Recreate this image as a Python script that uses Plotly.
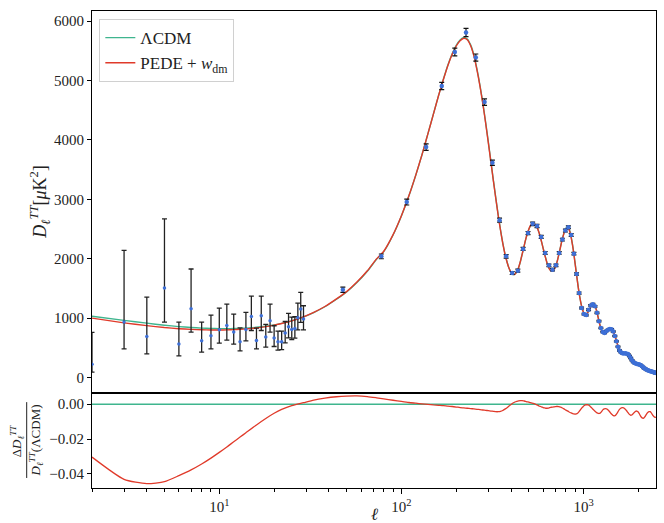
import plotly.graph_objects as go
import math

# ---------------- data ----------------
# low-ell unbinned TT data
ell_low = [2, 3, 4, 5, 6, 7, 8, 9, 10, 11, 12, 13, 14, 15, 16, 17, 18, 19, 20,
           21, 22, 23, 24, 25, 26, 27, 28, 29]
D_low = [226, 934, 691, 1507, 563, 1158, 619, 703, 804, 877, 765, 602, 809, 1029,
         624, 1040, 681, 956, 664, 602, 602, 749, 855, 809, 826, 1006, 1153, 985]
err_low_up = [534, 1207, 664, 1163, 371, 669, 315, 349, 366, 360, 304, 236, 287, 343,
              208, 332, 213, 281, 208, 180, 180, 195, 224, 209, 198, 248, 280, 224]
err_low_dn = [133, 450, 291, 573, 197, 393, 191, 219, 224, 247, 202, 152, 190, 237,
              140, 248, 169, 191, 141, 140, 130, 164, 186, 168, 162, 202, 225, 181]

# high-ell binned TT data
ell_high = [47.7, 77.6, 107.0, 136.7, 166.5, 196.4, 226.3, 256.2, 286.1, 316.0,
            345.9, 375.9, 405.8, 435.8, 465.7, 495.7, 525.6, 555.6, 585.6, 615.6,
            645.6, 675.5, 705.5, 735.5, 765.5, 795.5, 825.5, 855.5, 885.5, 915.5,
            945.5, 975.5, 1005.5, 1035.5, 1065.5, 1095.5, 1125.5, 1155.5, 1185.5, 1215.5,
            1245.5, 1275.5, 1305.5, 1335.5, 1365.5, 1395.5, 1425.5, 1455.5, 1485.5, 1515.5,
            1545.5, 1575.5, 1605.5, 1635.5, 1665.5, 1695.5, 1725.5, 1755.5, 1785.5, 1815.5,
            1845.5, 1875.5, 1905.5, 1935.5, 1965.5, 1995.5, 2025.5, 2055.5, 2085.5, 2115.5,
            2145.5, 2175.5, 2205.5, 2235.5, 2265.5, 2295.5, 2325.5, 2355.5, 2385.5, 2415.5,
            2445.5, 2475.5, 2499.0]
D_high = [1479, 2040, 2955, 3879, 4907, 5481, 5808, 5386, 4637, 3615,
          2650, 2040, 1760, 1800, 2165, 2432, 2587, 2553, 2368, 2098,
          1889, 1816, 1889, 2098, 2322, 2474, 2530, 2401, 2086, 1744,
          1423, 1170, 1069, 1052, 1142, 1215, 1235, 1200, 1090, 950,
          835, 765, 752, 782, 805, 818, 812, 775, 700, 610,
          520, 455, 425, 410, 405, 408, 402, 395, 362, 330,
          292, 262, 245, 238, 230, 226, 222, 212, 196, 180,
          162, 148, 138, 128, 120, 115, 108, 104, 100, 94,
          86, 80, 76]
err_high = [45, 40, 50, 55, 60, 65, 70, 60, 55, 45,
            35, 30, 25, 24, 25, 27, 28, 28, 26, 24,
            22, 21, 21, 22, 23, 24, 24, 23, 21, 19,
            17, 15, 14, 14, 14, 14, 14, 13, 13, 12,
            12, 11, 11, 11, 11, 11, 11, 11, 10, 10,
            10, 10, 10, 10, 10, 10, 10, 10, 10, 10,
            10, 10, 10, 10, 10, 10, 10, 10, 10, 10,
            10, 11, 11, 11, 11, 12, 12, 12, 13, 13,
            14, 15, 16]

# model curves
ell_model = [2, 3, 4, 5, 6, 7, 8, 9, 10, 11, 12, 13, 14, 16, 18, 20, 22, 25, 29, 33,
             38, 44, 50, 57, 65, 73, 80, 90, 100, 110, 120, 130, 140, 150, 160, 170,
             180, 190, 200, 210, 220, 230, 240, 250, 260, 270, 280, 290, 300, 310,
             320, 330, 340, 350, 360, 370, 380, 390, 400, 410, 420, 430, 440, 450,
             460, 470, 480, 490, 500, 510, 520, 530, 540, 550, 560, 570, 580, 590,
             600, 610, 620, 630, 640, 650, 660, 670, 680, 690, 700, 710, 720, 730,
             740, 750, 760, 770, 780, 790, 800, 810, 820, 830, 840, 850, 860, 870,
             880, 890, 900, 910, 920, 930, 940, 950, 960, 970, 980, 990, 1000, 1010,
             1020, 1030, 1040, 1050, 1060, 1070, 1080, 1090, 1100, 1110, 1120, 1130,
             1140, 1150, 1160, 1170, 1180, 1190, 1200, 1210, 1220, 1230, 1240, 1250,
             1260, 1270, 1280, 1290, 1300, 1320, 1340, 1360, 1380, 1400, 1420, 1440,
             1460, 1480, 1500, 1520, 1540, 1560, 1580, 1600, 1630, 1660, 1690, 1720,
             1750, 1780, 1810, 1840, 1870, 1900, 1930, 1960, 1990, 2020, 2050, 2080,
             2110, 2140, 2170, 2200, 2230, 2260, 2290, 2320, 2350, 2380, 2410, 2440,
             2470, 2500]
D_lcdm = [1032, 963, 916, 881, 858, 843, 833, 827, 824, 823, 825, 828, 833, 846, 864,
          887, 912, 955, 1022, 1095, 1192, 1318, 1440, 1600, 1790, 1990, 2120, 2400,
          2720, 3060, 3410, 3760, 4110, 4440, 4750, 5020, 5260, 5450, 5590, 5680, 5723,
          5700, 5600, 5430, 5190, 4920, 4620, 4300, 3970, 3640, 3320, 3020, 2740, 2490,
          2270, 2090, 1950, 1840, 1770, 1735, 1740, 1780, 1850, 1950, 2070, 2190, 2310,
          2410, 2490, 2550, 2585, 2595, 2585, 2555, 2505, 2440, 2360, 2270, 2180, 2090,
          2010, 1935, 1875, 1830, 1805, 1795, 1800, 1820, 1860, 1915, 1980, 2060, 2140,
          2220, 2300, 2370, 2430, 2480, 2515, 2530, 2530, 2510, 2470, 2410, 2330, 2240,
          2140, 2030, 1915, 1800, 1690, 1580, 1480, 1390, 1310, 1240, 1180, 1135, 1100,
          1078, 1066, 1064, 1070, 1085, 1105, 1130, 1155, 1180, 1200, 1218, 1230, 1235,
          1232, 1220, 1198, 1166, 1126, 1080, 1032, 983, 935, 890, 850, 815, 787, 767,
          755, 750, 752, 765, 782, 800, 812, 818, 815, 800, 770, 725, 670, 610, 550,
          497, 455, 428, 410, 405, 408, 408, 398, 375, 343, 307, 275, 252, 238, 230,
          226, 223, 217, 205, 188, 170, 153, 140, 130, 122, 116, 111, 107, 102, 96, 89,
          82, 77]
resid_pede = [-0.0304, -0.0432, -0.0457, -0.0446, -0.0411, -0.0378, -0.0344, -0.0310,
              -0.0277, -0.0246, -0.0216, -0.0189, -0.0164, -0.0119, -0.0082, -0.0052,
              -0.0030, -0.0008, 0.0009, 0.0024, 0.0035, 0.0043, 0.0047, 0.0048, 0.0044,
              0.0037, 0.0031, 0.0023, 0.0016, 0.0010, 0.0006, 0.0002, -0.0001, -0.0004,
              -0.0006, -0.0008, -0.0011, -0.0013, -0.0016, -0.0019, -0.0021, -0.0023,
              -0.0025, -0.0027, -0.0029, -0.0031, -0.0033, -0.0035, -0.0037, -0.0039,
              -0.0041, -0.0043, -0.0043, -0.0041, -0.0036, -0.0028, -0.0020, -0.0010,
              -0.0001, 0.0007, 0.0013, 0.0017, 0.0020, 0.0021, 0.0021, 0.0019, 0.0017,
              0.0014, 0.0012, 0.0009, 0.0007, 0.0005, 0.0002, -0.0002, -0.0006, -0.0010,
              -0.0013, -0.0016, -0.0019, -0.0021, -0.0023, -0.0023, -0.0022, -0.0020,
              -0.0018, -0.0017, -0.0016, -0.0015, -0.0014, -0.0013, -0.0013, -0.0014,
              -0.0015, -0.0017, -0.0020, -0.0023, -0.0027, -0.0030, -0.0034, -0.0037,
              -0.0040, -0.0043, -0.0046, -0.0049, -0.0051, -0.0053, -0.0055, -0.0056,
              -0.0057, -0.0056, -0.0054, -0.0050, -0.0045, -0.0039, -0.0033, -0.0027,
              -0.0021, -0.0016, -0.0011, -0.0007, -0.0005, -0.0003, -0.0003, -0.0003,
              -0.0004, -0.0006, -0.0009, -0.0013, -0.0017, -0.0021, -0.0026, -0.0030,
              -0.0034, -0.0038, -0.0042, -0.0045, -0.0048, -0.0050, -0.0052, -0.0053,
              -0.0053, -0.0052, -0.0049, -0.0045, -0.0040, -0.0035, -0.0031, -0.0028,
              -0.0026, -0.0025, -0.0027, -0.0032, -0.0039, -0.0047, -0.0055, -0.0061,
              -0.0066, -0.0067, -0.0064, -0.0056, -0.0046, -0.0036, -0.0028, -0.0023,
              -0.0020, -0.0021, -0.0027, -0.0036, -0.0047, -0.0057, -0.0063, -0.0062,
              -0.0055, -0.0047, -0.0041, -0.0039, -0.0043, -0.0053, -0.0065, -0.0075,
              -0.0080, -0.0080, -0.0073, -0.0063, -0.0053, -0.0046, -0.0043, -0.0043,
              -0.0048, -0.0057, -0.0066, -0.0072, -0.0075, -0.0074]

D_pede = [d * (1 + r) for d, r in zip(D_lcdm, resid_pede)]
resid_lcdm = [(d - d) / d for d in D_lcdm]

# ---------------- styling ----------------
GREEN = "#3fb58e"
RED = "#e03a2a"
BLUE = "#3d6fd6"
FONT = "Liberation Serif"
TXT = "#222222"

fig = go.Figure()

# top panel curves
fig.add_trace(go.Scatter(x=ell_model, y=D_lcdm, mode="lines", name="ΛCDM",
                         line=dict(color=GREEN, width=1.4, shape="spline", smoothing=0.6),
                         xaxis="x2", yaxis="y2"))
fig.add_trace(go.Scatter(x=ell_model, y=D_pede, mode="lines",
                         name="PEDE + <i>w</i><sub>dm</sub>",
                         line=dict(color=RED, width=1.4, shape="spline", smoothing=0.6),
                         xaxis="x2", yaxis="y2"))
# data
fig.add_trace(go.Scatter(x=ell_low, y=D_low, mode="markers", showlegend=False,
                         marker=dict(color=BLUE, size=3.5),
                         error_y=dict(type="data", symmetric=False, array=err_low_up,
                                      arrayminus=err_low_dn, color="#222222",
                                      thickness=1.3, width=2.5),
                         xaxis="x2", yaxis="y2"))
fig.add_trace(go.Scatter(x=ell_high, y=D_high, mode="markers", showlegend=False,
                         marker=dict(color=BLUE, size=4.5),
                         error_y=dict(type="data", array=err_high, color="#111111",
                                      thickness=1.2, width=2.5),
                         xaxis="x2", yaxis="y2"))

# bottom panel
fig.add_trace(go.Scatter(x=ell_model, y=resid_lcdm, mode="lines", showlegend=False,
                         line=dict(color=GREEN, width=1.4), xaxis="x", yaxis="y"))
fig.add_trace(go.Scatter(x=ell_model, y=resid_pede, mode="lines", showlegend=False,
                         line=dict(color=RED, width=1.3, shape="spline", smoothing=0.6),
                         xaxis="x", yaxis="y"))

xr = [math.log10(2), math.log10(2500)]
minor_vals = [m * 10 ** p for p in range(0, 4) for m in range(2, 10)
              if 2 <= m * 10 ** p <= 2500]

axis_common = dict(showline=True, linecolor="black", linewidth=1, mirror=True,
                   showgrid=False, zeroline=False, ticks="outside", tickcolor="black",
                   tickfont=dict(family=FONT, size=15, color=TXT))

fig.update_layout(
    width=664, height=523,
    margin=dict(l=92, r=8, t=11, b=35),
    paper_bgcolor="white", plot_bgcolor="white",
    font=dict(family=FONT, size=15, color=TXT),
    xaxis=dict(type="log", range=xr, domain=[0, 1], anchor="y",
               tickvals=[10, 100, 1000],
               ticktext=["10<sup>1</sup>", "10<sup>2</sup>", "10<sup>3</sup>"],
               ticklen=5, tickwidth=1,
               minor=dict(tickvals=minor_vals, ticklen=3, tickwidth=0.8,
                          ticks="outside", tickcolor="black"),
               **axis_common),
    yaxis=dict(range=[-0.0482, 0.0067], domain=[0, 0.2], anchor="x",
               tickvals=[-0.04, -0.02, 0.0], tickformat=".2f", ticklen=4,
               **axis_common),
    xaxis2=dict(type="log", range=xr, domain=[0, 1], anchor="y2",
                showticklabels=False, matches="x",
                **{k: v for k, v in axis_common.items() if k != "ticks"}, ticks=""),
    yaxis2=dict(range=[-253, 6170], domain=[0.2, 1], anchor="x2",
                tickvals=[0, 1000, 2000, 3000, 4000, 5000, 6000], ticklen=4,
                **axis_common),
    legend=dict(x=0.013, y=0.983, xanchor="left", yanchor="top",
                bgcolor="rgba(255,255,255,0.85)", bordercolor="#d0d0d0", borderwidth=1,
                font=dict(family=FONT, size=17, color=TXT),
                tracegroupgap=2),
)

# axis titles as annotations
fig.add_annotation(text="<i>D</i><sub><i>ℓ</i></sub><sup><i>TT</i></sup>[<i>μ</i>K<sup>2</sup>]",
                   xref="paper", yref="paper", x=-0.0922, y=0.60, showarrow=False,
                   xanchor="center", yanchor="middle",
                   textangle=-90, font=dict(family=FONT, size=18, color=TXT))
fig.add_annotation(text="Δ<i>D</i><sub><i>ℓ</i></sub><sup><i>TT</i></sup>",
                   xref="paper", yref="paper", x=-0.133, y=0.100, showarrow=False,
                   xanchor="center", yanchor="middle",
                   textangle=-90, font=dict(family=FONT, size=13, color=TXT))
fig.add_annotation(text="<i>D</i><sub><i>ℓ</i></sub><sup><i>TT</i></sup>(ΛCDM)",
                   xref="paper", yref="paper", x=-0.099, y=0.100, showarrow=False,
                   xanchor="center", yanchor="middle",
                   textangle=-90, font=dict(family=FONT, size=13, color=TXT))
fig.add_shape(type="line", xref="paper", yref="paper", x0=-0.1158, x1=-0.1158,
              y0=0.021, y1=0.180, line=dict(color=TXT, width=1))
fig.add_annotation(text="<i>ℓ</i>", xref="paper", yref="paper", x=0.5, y=-0.055,
                   showarrow=False, xanchor="center", yanchor="middle",
                   font=dict(family=FONT, size=17, color=TXT))

fig.write_html("out.html")
